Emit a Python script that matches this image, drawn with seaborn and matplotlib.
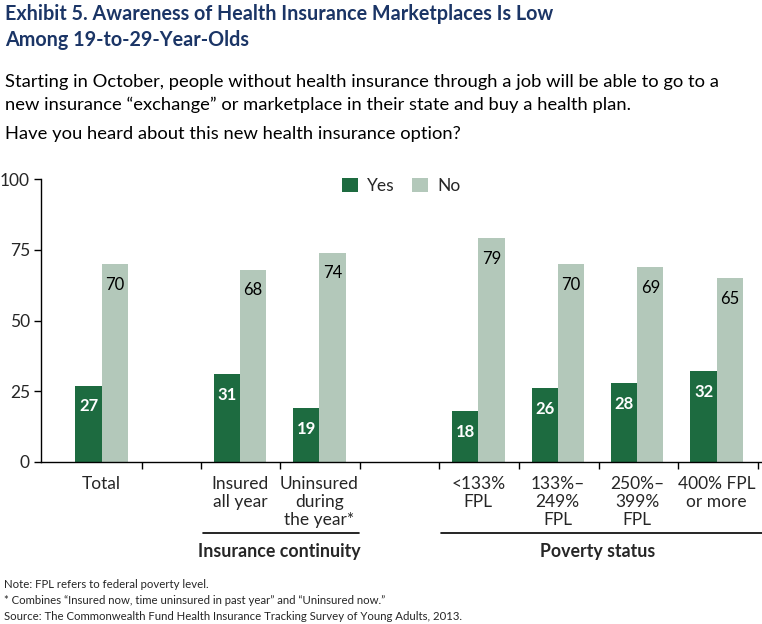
import matplotlib
matplotlib.use("Agg")
import matplotlib.pyplot as plt
import matplotlib.transforms as mtransforms
import seaborn as sns
import pandas as pd

# ---- data ----
categories = ["Total", "Insured\nall year", "Uninsured\nduring\nthe year*",
              "<133%\nFPL", "133%–\n249%\nFPL", "250%–\n399%\nFPL", "400% FPL\nor more"]
yes_values = [27, 31, 19, 18, 26, 28, 32]
no_values = [70, 68, 74, 79, 70, 69, 65]
series = ["Yes", "No"]
y_ticks = [0, 25, 50, 75, 100]

# ---- layout (slot positions on the x axis) ----
slot_pos = [0.26, 2, 3, 5, 6, 7, 8]
boundaries = [0.767, 1.51, 2.5, 3.51, 4.5, 5.51, 6.52, 7.51, 8.52]

df = pd.DataFrame({
    "pos": slot_pos * 2,
    "value": yes_values + no_values,
    "response": [series[0]] * len(yes_values) + [series[1]] * len(no_values),
})

sns.set_theme(style="white")
plt.rcParams["font.family"] = ["Lato", "DejaVu Sans"]

DARK = "#1d6b40"
LIGHT = "#b3c8ba"
NAVY = "#1b3566"

fig = plt.figure(figsize=(7.62, 6.24), dpi=100)
ax = fig.add_axes([41 / 762, 1 - 462 / 624, 721 / 762, 283 / 624])

sns.barplot(data=df, x="pos", y="value", hue="response", native_scale=True,
            palette=[DARK, LIGHT], width=0.66, dodge=True, saturation=1,
            linewidth=0, ax=ax, legend=True)

ax.set_xlim(-0.503, 8.57)
ax.set_ylim(0, 100)
ax.set_yticks(y_ticks)
ax.set_yticklabels([str(t) for t in y_ticks], fontsize=12.5)
ax.tick_params(axis="y", length=5, width=1, color="black", direction="out", pad=3, left=True)

ax.set_xticks(boundaries)
ax.set_xticklabels([])
ax.set_xticks(slot_pos, minor=True)
ax.set_xticklabels(categories, minor=True, fontsize=12.5, linespacing=1.15)
ax.tick_params(axis="x", which="major", length=5, width=1, color="black", direction="out", bottom=True)
ax.tick_params(axis="x", which="minor", length=0, pad=10)
ax.set_xlabel("")
ax.set_ylabel("")

for s in ["top", "right"]:
    ax.spines[s].set_visible(False)
for s in ["left", "bottom"]:
    ax.spines[s].set_color("black")
    ax.spines[s].set_linewidth(1)

# value labels
for ci, cont in enumerate(ax.containers):
    for p in cont.patches:
        h = p.get_height()
        ax.annotate(f"{h:.0f}", (p.get_x() + p.get_width() / 2, h),
                    xytext=(0, -15), textcoords="offset points",
                    ha="center", va="center", fontsize=12,
                    color="white" if ci == 0 else "black",
                    fontweight="bold" if ci == 0 else "normal")

sns.move_legend(ax, "center", bbox_to_anchor=(0.5, 0.975), ncol=2, frameon=False,
                title=None, fontsize=12.5, handlelength=0.9, handleheight=0.9,
                columnspacing=1.0, handletextpad=0.55)

# group brackets
trans = mtransforms.blended_transform_factory(ax.transData, ax.transAxes)
ax.plot([1.53, 3.5], [-0.251, -0.251], color="black", lw=1.2, transform=trans, clip_on=False)
ax.text(2.5, -0.316, "Insurance continuity", transform=trans, ha="center", va="center",
        fontsize=12.8, fontweight="bold")
ax.plot([4.53, 8.57], [-0.251, -0.251], color="black", lw=1.2, transform=trans, clip_on=False)
ax.text(6.5, -0.316, "Poverty status", transform=trans, ha="center", va="center",
        fontsize=12.8, fontweight="bold")

# titles
fig.text(5 / 762, 1 - 14 / 624, "Exhibit 5. Awareness of Health Insurance Marketplaces Is Low",
         ha="left", va="center", fontsize=14.2, fontweight="bold", color=NAVY)
fig.text(5 / 762, 1 - 40 / 624, "Among 19-to-29-Year-Olds",
         ha="left", va="center", fontsize=14.2, fontweight="bold", color=NAVY)
fig.text(5 / 762, 1 - 82 / 624,
         "Starting in October, people without health insurance through a job will be able to go to a",
         ha="left", va="center", fontsize=13.2, color="black")
fig.text(5 / 762, 1 - 105 / 624,
         "new insurance \u201cexchange\u201d or marketplace in their state and buy a health plan.",
         ha="left", va="center", fontsize=13.2, color="black")
fig.text(5 / 762, 1 - 134 / 624, "Have you heard about this new health insurance option?",
         ha="left", va="center", fontsize=13.2, color="black")

# footnotes
fig.text(4 / 762, 1 - 585 / 624, "Note: FPL refers to federal poverty level.",
         ha="left", va="center", fontsize=8.2)
fig.text(4 / 762, 1 - 601 / 624,
         "* Combines \u201cInsured now, time uninsured in past year\u201d and \u201cUninsured now.\u201d",
         ha="left", va="center", fontsize=8.2)
fig.text(4 / 762, 1 - 616 / 624,
         "Source: The Commonwealth Fund Health Insurance Tracking Survey of Young Adults, 2013.",
         ha="left", va="center", fontsize=8.2)

fig.savefig("out.png", dpi=100)
